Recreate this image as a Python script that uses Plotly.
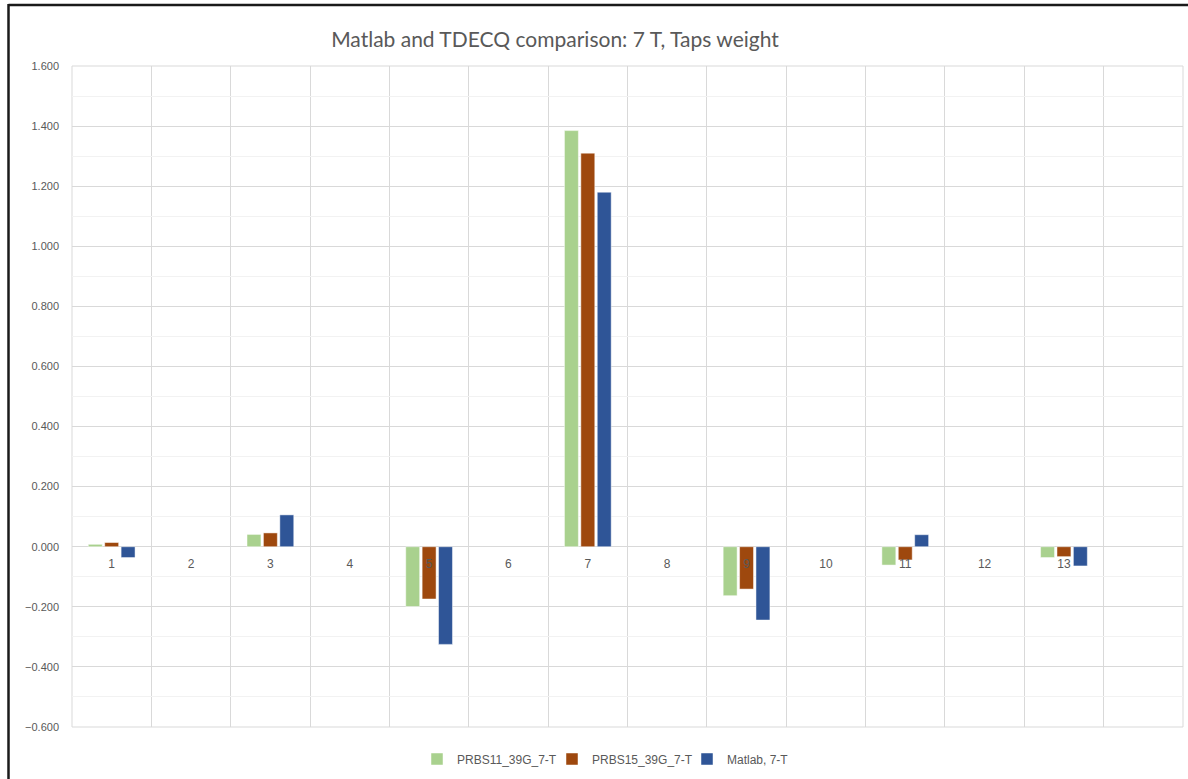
import plotly.graph_objects as go

# tap index 1..14 (14th slot is empty in the source chart)
categories = list(range(1, 15))
tick_labels = [str(i) for i in range(1, 14)] + [""]

prbs11 = [0.008, None, 0.041, None, -0.199, None, 1.385, None, -0.163, None, -0.061, None, -0.036, None]
prbs15 = [0.014, None, 0.046, None, -0.174, None, 1.310, None, -0.141, None, -0.044, None, -0.033, None]
matlab = [-0.036, None, 0.106, None, -0.325, None, 1.180, None, -0.244, None, 0.040, None, -0.064, None]

SERIES = [
    ("PRBS11_39G_7-T", prbs11, "#A9D18E"),
    ("PRBS15_39G_7-T", prbs15, "#9E480E"),
    ("Matlab, 7-T", matlab, "#2F5597"),
]

FONT = "Liberation Sans"
TITLE_FONT = "Lato"
GREY = "#595959"
GRID = "#D9D9D9"

W, H = 1188, 779
L, R, T, B = 72, W - 1183, 66, H - 727
pw, ph = W - L - R, H - T - B

fig = go.Figure()
for name, vals, color in SERIES:
    fig.add_trace(go.Bar(
        x=categories,
        y=vals,
        name=name,
        marker=dict(color=color, line=dict(color="rgba(255,255,255,0.6)", width=0.8)),
    ))

y_min, y_max = -0.6, 1.6

fig.update_layout(
    width=W,
    height=H,
    barmode="group",
    bargap=0.38,
    bargroupgap=0.15,
    plot_bgcolor="white",
    paper_bgcolor="white",
    font=dict(family=FONT, color=GREY, size=11),
    margin=dict(l=L, r=R, t=T, b=B),
    title=dict(
        text="Matlab and TDECQ comparison: 7 T, Taps weight",
        font=dict(family=TITLE_FONT, size=21, color=GREY),
        xref="container", yref="container",
        x=555 / W, y=1 - 40 / H,
        xanchor="center", yanchor="middle",
    ),
    legend=dict(
        orientation="h",
        x=(417 - L) / pw, y=(727 - 759) / ph,
        xanchor="left", yanchor="middle",
        font=dict(family=FONT, size=12, color=GREY),
        itemwidth=30,
        entrywidth=90,
        entrywidthmode="pixels",
    ),
    showlegend=True,
)

# category axis sits at y=0, grid lines on category boundaries
fig.update_xaxes(
    range=[0.5, 14.5],
    tickmode="array",
    tickvals=categories,
    ticktext=tick_labels,
    showgrid=False,
    showline=False,
    zeroline=False,
    ticks="",
    anchor="free",
    position=(0 - y_min) / (y_max - y_min),
    ticklabelstandoff=8,
    tickfont=dict(family=FONT, size=12, color=GREY),
    minor=dict(
        tickmode="array",
        tickvals=[c + 0.5 for c in [0] + categories],
        showgrid=True,
        gridcolor=GRID,
        gridwidth=1,
        ticks="",
    ),
)

fig.update_yaxes(
    range=[y_min, y_max],
    dtick=0.2,
    tick0=0,
    tickformat=".3f",
    showgrid=True,
    gridcolor=GRID,
    gridwidth=1,
    zeroline=True,
    zerolinecolor=GRID,
    zerolinewidth=1,
    ticks="",
    ticklabelstandoff=12,
    tickfont=dict(family=FONT, size=11, color=GREY),
    minor=dict(dtick=0.1, showgrid=True, gridcolor="#F2F2F2", gridwidth=1),
)

# plot-area frame and the black outer frame of the source image
fig.add_shape(type="rect", xref="paper", yref="paper", x0=0, x1=1, y0=0, y1=1,
              line=dict(color=GRID, width=1), layer="below")
fig.add_shape(type="line", xref="paper", yref="paper",
              x0=(8.5 - L) / pw, x1=(8.5 - L) / pw, y0=(727 - 4) / ph, y1=(727 - H - 2) / ph,
              line=dict(color="#1a1a1a", width=2.5))
fig.add_shape(type="line", xref="paper", yref="paper",
              x0=(8.5 - L) / pw, x1=(W + 2 - L) / pw, y0=(727 - 5) / ph, y1=(727 - 5) / ph,
              line=dict(color="#1a1a1a", width=2.5))

fig.write_html("out.html", config={"displayModeBar": False},
               post_script="document.body.style.margin='0';")
